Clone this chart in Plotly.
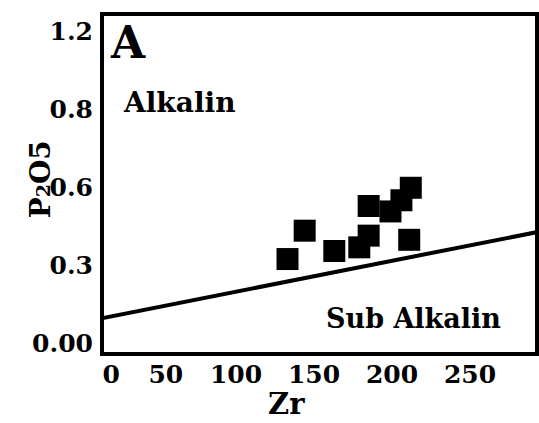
import plotly.graph_objects as go

# Sample data (Zr vs P2O5)
zr = [133, 144, 163, 179, 185, 185, 199, 206, 212, 211]
p2o5 = [0.323, 0.432, 0.354, 0.368, 0.413, 0.527, 0.506, 0.549, 0.597, 0.397]

# Alkalin / Sub-alkalin dividing line
line_zr = [0, 300]
line_p2o5 = [0.079, 0.435]

# Tick labels as printed on the original figure
x_tickvals = [20, 55, 100, 150, 200, 250]
x_ticktext = ["0", "50", "100", "150", "200", "250"]
y_tickvals = [0, 0.3, 0.6, 0.9, 1.2]
y_ticktext = ["0.00", "0.3", "0.6", "0.8", "1.2"]

FONT = "DejaVu Serif"

fig = go.Figure()
fig.add_trace(go.Scatter(x=line_zr, y=line_p2o5, mode="lines",
                         line=dict(color="black", width=4),
                         hoverinfo="skip", showlegend=False))
fig.add_trace(go.Scatter(x=zr, y=p2o5, mode="markers",
                         marker=dict(symbol="square", size=22, color="black",
                                     line=dict(width=0)),
                         showlegend=False))

fig.update_layout(
    width=539, height=423,
    margin=dict(l=102, r=2, t=14, b=69),
    paper_bgcolor="white", plot_bgcolor="white",
    font=dict(family=FONT, color="black"),
    xaxis=dict(range=[14.1, 292.9], tickvals=x_tickvals,
               ticktext=["<b>%s</b>" % t for t in x_ticktext],
               showgrid=False, zeroline=False, showline=False,
               ticks="", ticklabelstandoff=3,
               tickfont=dict(family=FONT, size=25, color="black")),
    yaxis=dict(range=[-0.042, 1.265], tickvals=y_tickvals,
               ticktext=["<b>%s</b>" % t for t in y_ticktext],
               showgrid=False, zeroline=False, showline=False,
               ticks="", ticklabelstandoff=8,
               tickfont=dict(family=FONT, size=25, color="black")),
    shapes=[dict(type="rect", xref="paper", yref="paper", x0=0, x1=1, y0=0, y1=1,
                 line=dict(color="black", width=4), fillcolor="rgba(0,0,0,0)")],
    annotations=[
        dict(x=30.8, y=1.154, text="<b>A</b>", showarrow=False,
             font=dict(family=FONT, size=44, color="black")),
        dict(x=63.5, y=0.923, text="<b>Alkalin</b>", showarrow=False,
             font=dict(family=FONT, size=28, color="black")),
        dict(x=213.5, y=0.096, text="<b>Sub Alkalin</b>", showarrow=False,
             font=dict(family=FONT, size=27, color="black")),
        dict(x=0.423, y=-0.203, xref="paper", yref="paper", text="<b>Zr</b>",
             showarrow=False, yanchor="bottom",
             font=dict(family=FONT, size=29, color="black")),
        dict(x=-0.184, y=0.515, xref="paper", yref="paper",
             text="<b>P<span style='font-size:19px'>2</span>O5</b>", textangle=-90,
             showarrow=False,
             font=dict(family=FONT, size=28, color="black")),
    ],
)

fig.write_html("out.html")
